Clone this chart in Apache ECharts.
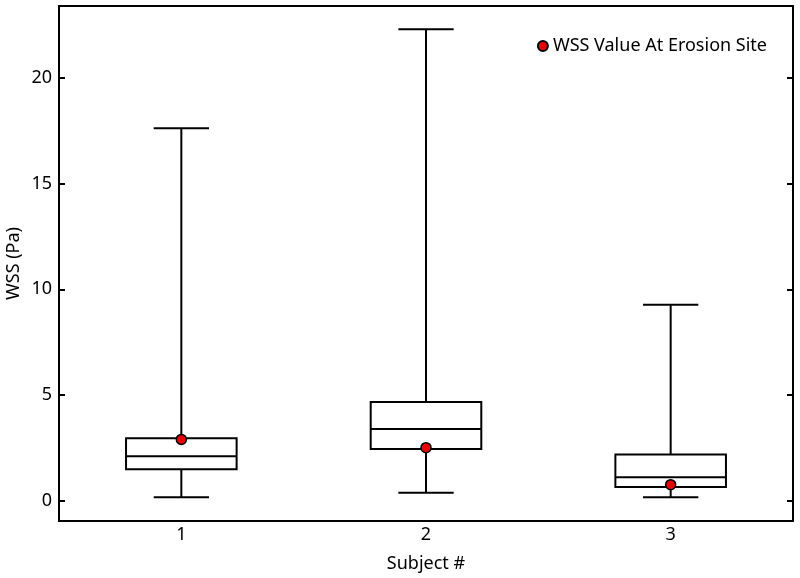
<!DOCTYPE html>
<html>
<head>
<meta charset="utf-8">
<script src="https://cdn.jsdelivr.net/npm/echarts@6/dist/echarts.min.js"></script>
<style>html,body{margin:0;padding:0;background:#fff}#c{width:800px;height:578px}</style>
</head>
<body>
<div id="c"></div>
<script>
const categories = ['1', '2', '3'];
const whiskerLow = [0.16, 0.38, 0.16];
const q1 = [1.49, 2.45, 0.65];
const median = [2.10, 3.39, 1.11];
const q3 = [2.95, 4.67, 2.18];
const whiskerHigh = [17.62, 22.3, 9.27];
const erosionWSS = [2.90, 2.51, 0.76];

const FONT = 'Noto Sans';
const FS = 18;
const boxData = categories.map((c, i) => [i, whiskerLow[i], q1[i], median[i], q3[i], whiskerHigh[i]]);
const dotData = categories.map((c, i) => [i, erosionWSS[i]]);

const chart = echarts.init(document.getElementById('c'));
chart.setOption({
  animation: false,
  textStyle: { fontFamily: FONT },
  grid: { left: 59, right: 7, top: 6, bottom: 57, show: true, borderColor: '#000', borderWidth: 2, containLabel: false, outerBoundsMode: 'none' },
  legend: {
    data: ['WSS Value At Erosion Site'],
    right: 28, top: 32,
    itemWidth: 10, itemHeight: 10, itemGap: 4,
    textStyle: { fontFamily: FONT, fontSize: FS, color: '#000' }
  },
  xAxis: {
    type: 'category', data: categories, boundaryGap: true,
    name: 'Subject #', nameLocation: 'middle', nameGap: 34, nameMoveOverlap: false,
    nameTextStyle: { fontFamily: FONT, fontSize: FS, color: '#000' },
    axisLine: { onZero: false, lineStyle: { color: '#000', width: 2 } },
    axisTick: { show: false },
    axisLabel: { fontFamily: FONT, fontSize: FS, color: '#000', margin: 5 },
    splitLine: { show: false }
  },
  yAxis: [{
    type: 'value', min: -0.96, max: 23.4, splitNumber: 5,
    name: 'WSS (Pa)', nameLocation: 'middle', nameGap: 36, nameRotate: 90, nameMoveOverlap: false,
    nameTextStyle: { fontFamily: FONT, fontSize: FS, color: '#000' },
    axisLine: { show: true, onZero: false, lineStyle: { color: '#000', width: 2 } },
    axisTick: { show: true, inside: true, length: 6, lineStyle: { color: '#000', width: 2 } },
    axisLabel: { fontFamily: FONT, fontSize: FS, color: '#000', margin: 7, showMinLabel: false, showMaxLabel: false },
    splitLine: { show: false }
  }, {
    type: 'value', min: -0.96, max: 23.4, splitNumber: 5, position: 'right',
    axisLine: { show: true, onZero: false, lineStyle: { color: '#000', width: 2 } },
    axisTick: { show: true, inside: true, length: 6, lineStyle: { color: '#000', width: 2 } },
    axisLabel: { show: false },
    splitLine: { show: false }
  }],
  series: [{
    type: 'custom',
    name: 'box',
    data: boxData,
    encode: { x: 0, y: [1, 2, 3, 4, 5] },
    renderItem: function (params, api) {
      const x = api.value(0);
      const pLow = api.coord([x, api.value(1)]);
      const pQ1 = api.coord([x, api.value(2)]);
      const pMed = api.coord([x, api.value(3)]);
      const pQ3 = api.coord([x, api.value(4)]);
      const pHigh = api.coord([x, api.value(5)]);
      const band = api.size([1, 0])[0];
      const bw = band * 0.452;
      const cw = bw / 2;
      const cx = pMed[0];
      const st = { stroke: '#000', lineWidth: 2, fill: null };
      return {
        type: 'group',
        children: [
          { type: 'line', shape: { x1: cx, y1: pHigh[1], x2: cx, y2: pQ3[1] }, style: st },
          { type: 'line', shape: { x1: cx, y1: pQ1[1], x2: cx, y2: pLow[1] }, style: st },
          { type: 'line', shape: { x1: cx - cw / 2, y1: pHigh[1], x2: cx + cw / 2, y2: pHigh[1] }, style: st },
          { type: 'line', shape: { x1: cx - cw / 2, y1: pLow[1], x2: cx + cw / 2, y2: pLow[1] }, style: st },
          { type: 'rect', shape: { x: cx - bw / 2, y: pQ3[1], width: bw, height: pQ1[1] - pQ3[1] }, style: { stroke: '#000', lineWidth: 2, fill: '#fff' } },
          { type: 'line', shape: { x1: cx - bw / 2, y1: pMed[1], x2: cx + bw / 2, y2: pMed[1] }, style: st }
        ]
      };
    },
    z: 2
  }, {
    type: 'scatter',
    name: 'WSS Value At Erosion Site',
    data: dotData,
    symbol: 'circle',
    symbolSize: 10,
    itemStyle: { color: '#e60000', borderColor: '#000', borderWidth: 1.5, opacity: 1 },
    z: 5
  }]
});
</script>
</body>
</html>
